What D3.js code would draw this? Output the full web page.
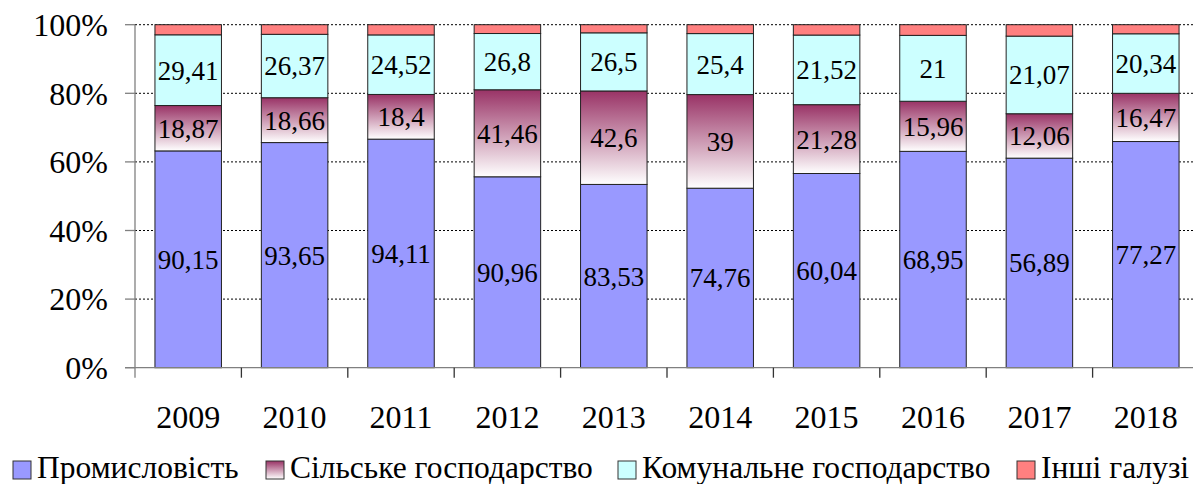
<!DOCTYPE html>
<html>
<head>
<meta charset="utf-8">
<script src="https://cdn.jsdelivr.net/npm/d3@7"></script>
<style>
  body { margin: 0; background: #fff; }
</style>
</head>
<body>
<svg id="chart" width="1193" height="484"></svg>
<script>
const years = ['2009','2010','2011','2012','2013','2014','2015','2016','2017','2018']
const seriesNames = ['Промисловість','Сільське господарство','Комунальне господарство','Інші галузі']
const industry = [90.15, 93.65, 94.11, 90.96, 83.53, 74.76, 60.04, 68.95, 56.89, 77.27]
const agriculture = [18.87, 18.66, 18.4, 41.46, 42.6, 39, 21.28, 15.96, 12.06, 16.47]
const communal = [29.41, 26.37, 24.52, 26.8, 26.5, 25.4, 21.52, 21, 21.07, 20.34]
const other = [4.2, 4.0, 4.2, 4.2, 3.7, 3.7, 3.2, 3.4, 3.1, 3.1]
const yTicks = [0, 0.2, 0.4, 0.6, 0.8, 1]

const FONT = "'Liberation Serif', 'Times New Roman', Tinos, 'DejaVu Serif', serif"

const svg = d3.select('#chart').attr('font-family', FONT)
const margin = {left: 135, top: 24.7, bottom: 367.7, right: 1199}

const x = d3.scaleBand()
  .domain(years)
  .range([margin.left, margin.right])
  .paddingInner(0.375)
  .paddingOuter(0.1875)

const y = d3.scaleLinear()
  .domain([0, 1])
  .range([margin.bottom, margin.top])

// gradient for agriculture
const defs = svg.append('defs')
const grad = defs.append('linearGradient')
  .attr('id', 'agriGrad')
  .attr('x1', 0).attr('y1', 0).attr('x2', 0).attr('y2', 1)
grad.append('stop').attr('offset', '0%').attr('stop-color', '#993366')
grad.append('stop').attr('offset', '100%').attr('stop-color', '#ffffff')

const fills = ['#9999ff', 'url(#agriGrad)', '#ccffff', '#ff8080']

// gridlines
svg.append('g')
  .selectAll('line')
  .data(yTicks.filter(d => d > 0))
  .enter()
  .append('line')
  .attr('x1', margin.left)
  .attr('x2', margin.right)
  .attr('y1', d => y(d))
  .attr('y2', d => y(d))
  .attr('stroke', '#000')
  .attr('stroke-width', 1)
  .attr('stroke-dasharray', '2,2')

// rows -> stacked percent
const rows = years.map((yr, i) => {
  const vals = [industry[i], agriculture[i], communal[i], other[i]]
  const total = d3.sum(vals)
  let acc = 0
  return vals.map((v, k) => {
    const seg = {year: yr, k: k, value: v, y0: acc / total, y1: (acc + v) / total}
    acc += v
    return seg
  })
})

const bars = svg.append('g')
bars.selectAll('g')
  .data(rows)
  .enter()
  .append('g')
  .selectAll('rect')
  .data(d => d)
  .enter()
  .append('rect')
  .attr('x', d => x(d.year))
  .attr('width', x.bandwidth())
  .attr('y', d => y(d.y1))
  .attr('height', d => y(d.y0) - y(d.y1))
  .attr('fill', d => fills[d.k])
  .attr('stroke', '#222')
  .attr('stroke-width', 1)

// labels (not for other)
bars.append('g')
  .selectAll('text')
  .data(rows.flat().filter(d => d.k < 3))
  .enter()
  .append('text')
  .attr('x', d => x(d.year) + x.bandwidth() / 2)
  .attr('y', d => (y(d.y0) + y(d.y1)) / 2)
  .attr('dy', '0.35em')
  .attr('text-anchor', 'middle')
  .attr('font-size', 27)
  .attr('fill', '#000')
  .text(d => String(d.value).replace('.', ','))

// axes
const axes = svg.append('g').attr('stroke', '#808080').attr('stroke-width', 1.3)
axes.append('line')
  .attr('x1', margin.left).attr('x2', margin.left)
  .attr('y1', margin.top).attr('y2', margin.bottom + 10)
axes.append('line')
  .attr('x1', margin.left - 10).attr('x2', margin.right)
  .attr('y1', margin.bottom).attr('y2', margin.bottom)
axes.selectAll('.ytick')
  .data(yTicks)
  .enter()
  .append('line')
  .attr('x1', margin.left - 10).attr('x2', margin.left)
  .attr('y1', d => y(d)).attr('y2', d => y(d))
axes.selectAll('.xtick')
  .data(years.slice(1))
  .enter()
  .append('line')
  .attr('x1', d => x(d) - x.step() * x.paddingInner() / 2)
  .attr('x2', d => x(d) - x.step() * x.paddingInner() / 2)
  .attr('y1', margin.bottom).attr('y2', margin.bottom + 10)
  .attr('stroke', '#333')

svg.append('g')
  .selectAll('text')
  .data(yTicks)
  .enter()
  .append('text')
  .attr('x', 108)
  .attr('y', d => y(d))
  .attr('dy', '0.35em')
  .attr('text-anchor', 'end')
  .attr('font-size', 32)
  .text(d => Math.round(d * 100) + '%')

svg.append('g')
  .selectAll('text')
  .data(years)
  .enter()
  .append('text')
  .attr('x', d => x(d) + x.bandwidth() / 2)
  .attr('y', 428)
  .attr('text-anchor', 'middle')
  .attr('font-size', 32)
  .text(d => d)

// legend
const legendX = [13, 266, 618, 1017]
const legend = svg.append('g')
  .selectAll('g')
  .data(seriesNames)
  .enter()
  .append('g')
  .attr('transform', (d, i) => `translate(${legendX[i]},461)`)
legend.append('rect')
  .attr('width', 18).attr('height', 18)
  .attr('fill', (d, i) => fills[i])
  .attr('stroke', '#333')
  .attr('stroke-width', 1)
legend.append('text')
  .attr('x', 24)
  .attr('y', 16.5)
  .attr('font-size', 31.5)
  .text(d => d)
</script>
</body>
</html>
